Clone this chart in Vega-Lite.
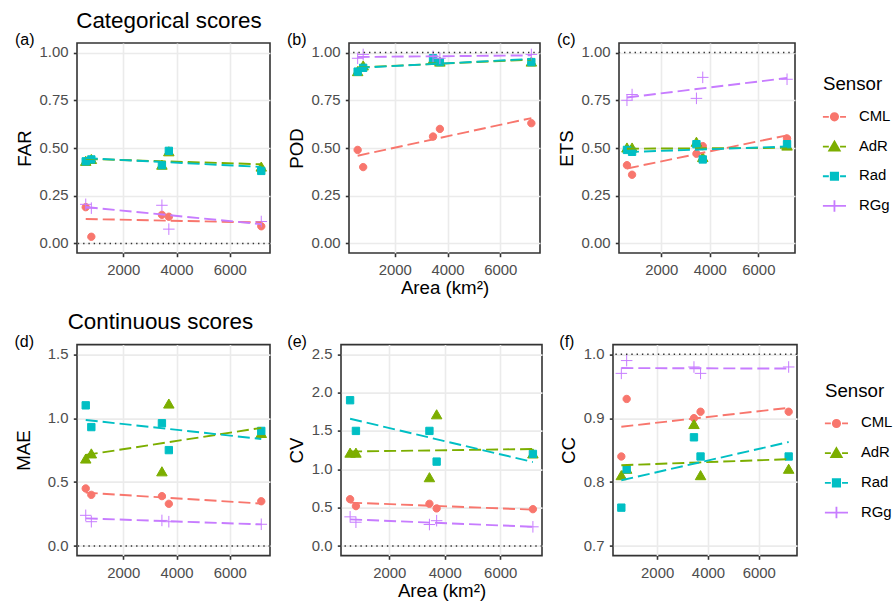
{
"$schema": "https://vega.github.io/schema/vega-lite/v6.json",
"background": "white",
"padding": {"left": 13, "top": 9, "right": 0, "bottom": 0},
"datasets": {"scores": [
{"m":"FAR","Area":590,"Sensor":"CML","value":0.19},{"m":"FAR","Area":800,"Sensor":"CML","value":0.035},{"m":"FAR","Area":3450,"Sensor":"CML","value":0.15},{"m":"FAR","Area":3710,"Sensor":"CML","value":0.14},{"m":"FAR","Area":7180,"Sensor":"CML","value":0.09},
{"m":"FAR","Area":590,"Sensor":"AdR","value":0.43},{"m":"FAR","Area":800,"Sensor":"AdR","value":0.44},{"m":"FAR","Area":3450,"Sensor":"AdR","value":0.41},{"m":"FAR","Area":3710,"Sensor":"AdR","value":0.48},{"m":"FAR","Area":7180,"Sensor":"AdR","value":0.40},
{"m":"FAR","Area":590,"Sensor":"Rad","value":0.43},{"m":"FAR","Area":800,"Sensor":"Rad","value":0.44},{"m":"FAR","Area":3450,"Sensor":"Rad","value":0.41},{"m":"FAR","Area":3710,"Sensor":"Rad","value":0.485},{"m":"FAR","Area":7180,"Sensor":"Rad","value":0.38},
{"m":"FAR","Area":590,"Sensor":"RGg","value":0.205},{"m":"FAR","Area":800,"Sensor":"RGg","value":0.185},{"m":"FAR","Area":3450,"Sensor":"RGg","value":0.20},{"m":"FAR","Area":3710,"Sensor":"RGg","value":0.075},{"m":"FAR","Area":7180,"Sensor":"RGg","value":0.115},
{"m":"POD","Area":590,"Sensor":"CML","value":0.49},{"m":"POD","Area":800,"Sensor":"CML","value":0.40},{"m":"POD","Area":3450,"Sensor":"CML","value":0.56},{"m":"POD","Area":3710,"Sensor":"CML","value":0.60},{"m":"POD","Area":7180,"Sensor":"CML","value":0.63},
{"m":"POD","Area":590,"Sensor":"AdR","value":0.90},{"m":"POD","Area":800,"Sensor":"AdR","value":0.93},{"m":"POD","Area":3450,"Sensor":"AdR","value":0.96},{"m":"POD","Area":3710,"Sensor":"AdR","value":0.95},{"m":"POD","Area":7180,"Sensor":"AdR","value":0.95},
{"m":"POD","Area":590,"Sensor":"Rad","value":0.90},{"m":"POD","Area":800,"Sensor":"Rad","value":0.92},{"m":"POD","Area":3450,"Sensor":"Rad","value":0.97},{"m":"POD","Area":3710,"Sensor":"Rad","value":0.95},{"m":"POD","Area":7180,"Sensor":"Rad","value":0.95},
{"m":"POD","Area":590,"Sensor":"RGg","value":0.97},{"m":"POD","Area":800,"Sensor":"RGg","value":0.99},{"m":"POD","Area":3450,"Sensor":"RGg","value":0.98},{"m":"POD","Area":3710,"Sensor":"RGg","value":0.97},{"m":"POD","Area":7180,"Sensor":"RGg","value":0.99},
{"m":"ETS","Area":590,"Sensor":"CML","value":0.41},{"m":"ETS","Area":800,"Sensor":"CML","value":0.36},{"m":"ETS","Area":3450,"Sensor":"CML","value":0.47},{"m":"ETS","Area":3710,"Sensor":"CML","value":0.51},{"m":"ETS","Area":7180,"Sensor":"CML","value":0.55},
{"m":"ETS","Area":590,"Sensor":"AdR","value":0.50},{"m":"ETS","Area":800,"Sensor":"AdR","value":0.50},{"m":"ETS","Area":3450,"Sensor":"AdR","value":0.53},{"m":"ETS","Area":3710,"Sensor":"AdR","value":0.45},{"m":"ETS","Area":7180,"Sensor":"AdR","value":0.51},
{"m":"ETS","Area":590,"Sensor":"Rad","value":0.49},{"m":"ETS","Area":800,"Sensor":"Rad","value":0.48},{"m":"ETS","Area":3450,"Sensor":"Rad","value":0.52},{"m":"ETS","Area":3710,"Sensor":"Rad","value":0.44},{"m":"ETS","Area":7180,"Sensor":"Rad","value":0.52},
{"m":"ETS","Area":590,"Sensor":"RGg","value":0.75},{"m":"ETS","Area":800,"Sensor":"RGg","value":0.78},{"m":"ETS","Area":3450,"Sensor":"RGg","value":0.76},{"m":"ETS","Area":3710,"Sensor":"RGg","value":0.87},{"m":"ETS","Area":7180,"Sensor":"RGg","value":0.86},
{"m":"MAE","Area":590,"Sensor":"CML","value":0.45},{"m":"MAE","Area":800,"Sensor":"CML","value":0.40},{"m":"MAE","Area":3450,"Sensor":"CML","value":0.39},{"m":"MAE","Area":3710,"Sensor":"CML","value":0.33},{"m":"MAE","Area":7180,"Sensor":"CML","value":0.35},
{"m":"MAE","Area":590,"Sensor":"AdR","value":0.68},{"m":"MAE","Area":800,"Sensor":"AdR","value":0.72},{"m":"MAE","Area":3450,"Sensor":"AdR","value":0.58},{"m":"MAE","Area":3710,"Sensor":"AdR","value":1.11},{"m":"MAE","Area":7180,"Sensor":"AdR","value":0.88},
{"m":"MAE","Area":590,"Sensor":"Rad","value":1.10},{"m":"MAE","Area":800,"Sensor":"Rad","value":0.93},{"m":"MAE","Area":3450,"Sensor":"Rad","value":0.96},{"m":"MAE","Area":3710,"Sensor":"Rad","value":0.75},{"m":"MAE","Area":7180,"Sensor":"Rad","value":0.90},
{"m":"MAE","Area":590,"Sensor":"RGg","value":0.24},{"m":"MAE","Area":800,"Sensor":"RGg","value":0.19},{"m":"MAE","Area":3450,"Sensor":"RGg","value":0.20},{"m":"MAE","Area":3710,"Sensor":"RGg","value":0.19},{"m":"MAE","Area":7180,"Sensor":"RGg","value":0.17},
{"m":"CV","Area":590,"Sensor":"CML","value":0.61},{"m":"CV","Area":800,"Sensor":"CML","value":0.52},{"m":"CV","Area":3450,"Sensor":"CML","value":0.55},{"m":"CV","Area":3710,"Sensor":"CML","value":0.49},{"m":"CV","Area":7180,"Sensor":"CML","value":0.48},
{"m":"CV","Area":590,"Sensor":"AdR","value":1.21},{"m":"CV","Area":800,"Sensor":"AdR","value":1.21},{"m":"CV","Area":3450,"Sensor":"AdR","value":0.89},{"m":"CV","Area":3710,"Sensor":"AdR","value":1.71},{"m":"CV","Area":7180,"Sensor":"AdR","value":1.20},
{"m":"CV","Area":590,"Sensor":"Rad","value":1.90},{"m":"CV","Area":800,"Sensor":"Rad","value":1.50},{"m":"CV","Area":3450,"Sensor":"Rad","value":1.50},{"m":"CV","Area":3710,"Sensor":"Rad","value":1.10},{"m":"CV","Area":7180,"Sensor":"Rad","value":1.20},
{"m":"CV","Area":590,"Sensor":"RGg","value":0.38},{"m":"CV","Area":800,"Sensor":"RGg","value":0.31},{"m":"CV","Area":3450,"Sensor":"RGg","value":0.28},{"m":"CV","Area":3710,"Sensor":"RGg","value":0.33},{"m":"CV","Area":7180,"Sensor":"RGg","value":0.25},
{"m":"CC","Area":590,"Sensor":"CML","value":0.84},{"m":"CC","Area":800,"Sensor":"CML","value":0.93},{"m":"CC","Area":3450,"Sensor":"CML","value":0.90},{"m":"CC","Area":3710,"Sensor":"CML","value":0.91},{"m":"CC","Area":7180,"Sensor":"CML","value":0.91},
{"m":"CC","Area":590,"Sensor":"AdR","value":0.81},{"m":"CC","Area":800,"Sensor":"AdR","value":0.82},{"m":"CC","Area":3450,"Sensor":"AdR","value":0.89},{"m":"CC","Area":3710,"Sensor":"AdR","value":0.81},{"m":"CC","Area":7180,"Sensor":"AdR","value":0.82},
{"m":"CC","Area":590,"Sensor":"Rad","value":0.76},{"m":"CC","Area":800,"Sensor":"Rad","value":0.82},{"m":"CC","Area":3450,"Sensor":"Rad","value":0.87},{"m":"CC","Area":3710,"Sensor":"Rad","value":0.84},{"m":"CC","Area":7180,"Sensor":"Rad","value":0.84},
{"m":"CC","Area":590,"Sensor":"RGg","value":0.97},{"m":"CC","Area":800,"Sensor":"RGg","value":0.99},{"m":"CC","Area":3450,"Sensor":"RGg","value":0.98},{"m":"CC","Area":3710,"Sensor":"RGg","value":0.97},{"m":"CC","Area":7180,"Sensor":"RGg","value":0.98}
]},
"spacing": 11.6,
"vconcat": [
{
"title": {"text": "Categorical scores", "anchor": "start", "frame": "bounds", "fontSize": 22.4, "dx": 62, "offset": -1},
"spacing": 14,
"hconcat": [
{
"width": 193, "height": 210,
"title": {"text": "(a)", "anchor": "start", "frame": "bounds", "fontSize": 16, "offset": -5},
"data": {"name": "scores"},
"transform": [{"filter": "datum.m === 'FAR'"}],
"resolve": {"scale": {"fill": "independent", "stroke": "independent", "shape": "independent"}, "axis": {"x": "independent"}},
"layer": [
{"mark": {"type": "point", "filled": true, "opacity": 1, "size": 49, "strokeWidth": 1},
 "encoding": {
  "x": {"field": "Area", "type": "quantitative", "scale": {"domain": [262, 7508], "nice": false, "zero": false},
   "axis": {"title": null, "orient": "bottom", "values": [2000,4000,6000], "format": "d", "labelOverlap": false, "gridWidth": 1.6}},
  "y": {"field": "value", "type": "quantitative", "scale": {"domain": [-0.05, 1.05], "nice": false, "zero": false},
   "axis": {"title": "FAR", "labelOverlap": false, "values": [0,0.125,0.25,0.375,0.5,0.625,0.75,0.875,1], "labelExpr": "(datum.value*4)%1 > 0.001 ? '' : format(datum.value, '.2f')", "gridWidth": {"condition": {"test": "(datum.value*4)%1 > 0.001", "value": 0.8}, "value": 1.6}, "tickOpacity": {"condition": {"test": "(datum.value*4)%1 > 0.001", "value": 0}, "value": 1}}},
  "fill": {"field": "Sensor", "type": "nominal", "scale": {"domain": ["CML","AdR","Rad","RGg"], "range": ["#F8766D","#7CAE00","#00BFC4","#C77CFF"]}, "legend": null},
  "stroke": {"field": "Sensor", "type": "nominal", "scale": {"domain": ["CML","AdR","Rad","RGg"], "range": ["#F8766D","#7CAE00","#00BFC4","#C77CFF"]}, "legend": null},
  "shape": {"field": "Sensor", "type": "nominal", "scale": {"domain": ["CML","AdR","Rad","RGg"], "range": ["M-1.05,0A1.05,1.05,0,1,1,1.05,0A1.05,1.05,0,1,1,-1.05,0Z","M0,-1.45L1.5,1.15L-1.5,1.15Z","M-1.05,-1.05H1.05V1.05H-1.05Z","M-1.65,0H1.65M0,-1.65V1.65"]}, "legend": null}
 }},
{"data": {"values": [{}]}, "mark": {"type": "rule", "strokeDash": [1.4, 3.9], "strokeWidth": 1.4, "color": "#333333"},
 "encoding": {"y": {"datum": 0, "type": "quantitative"}}},
{"transform": [{"regression": "value", "on": "Area", "groupby": ["Sensor"]}],
 "mark": {"type": "line", "strokeDash": [12, 5], "strokeWidth": 1.9},
 "encoding": {
  "x": {"field": "Area", "type": "quantitative", "axis": {"orient": "bottom", "title": null, "values": [1000,3000,5000,7000], "labels": false, "ticks": false, "domain": false, "gridWidth": 0.8}},
  "y": {"field": "value", "type": "quantitative"},
  "stroke": {"field": "Sensor", "type": "nominal", "scale": {"domain": ["CML","AdR","Rad","RGg"], "range": ["#F8766D","#7CAE00","#00BFC4","#C77CFF"]}, "legend": null}
 }}
]
},
{
"width": 191, "height": 210,
"title": {"text": "(b)", "anchor": "start", "frame": "bounds", "fontSize": 16, "offset": -5},
"data": {"name": "scores"},
"transform": [{"filter": "datum.m === 'POD'"}],
"resolve": {"scale": {"fill": "independent", "stroke": "independent", "shape": "independent"}, "axis": {"x": "independent"}},
"layer": [
{"mark": {"type": "point", "filled": true, "opacity": 1, "size": 49, "strokeWidth": 1},
 "encoding": {
  "x": {"field": "Area", "type": "quantitative", "scale": {"domain": [262, 7508], "nice": false, "zero": false},
   "axis": {"title": "Area (km²)", "orient": "bottom", "values": [2000,4000,6000], "format": "d", "labelOverlap": false, "gridWidth": 1.6}},
  "y": {"field": "value", "type": "quantitative", "scale": {"domain": [-0.05, 1.05], "nice": false, "zero": false},
   "axis": {"title": "POD", "labelOverlap": false, "values": [0,0.125,0.25,0.375,0.5,0.625,0.75,0.875,1], "labelExpr": "(datum.value*4)%1 > 0.001 ? '' : format(datum.value, '.2f')", "gridWidth": {"condition": {"test": "(datum.value*4)%1 > 0.001", "value": 0.8}, "value": 1.6}, "tickOpacity": {"condition": {"test": "(datum.value*4)%1 > 0.001", "value": 0}, "value": 1}}},
  "fill": {"field": "Sensor", "type": "nominal", "scale": {"domain": ["CML","AdR","Rad","RGg"], "range": ["#F8766D","#7CAE00","#00BFC4","#C77CFF"]}, "legend": null},
  "stroke": {"field": "Sensor", "type": "nominal", "scale": {"domain": ["CML","AdR","Rad","RGg"], "range": ["#F8766D","#7CAE00","#00BFC4","#C77CFF"]}, "legend": null},
  "shape": {"field": "Sensor", "type": "nominal", "scale": {"domain": ["CML","AdR","Rad","RGg"], "range": ["M-1.05,0A1.05,1.05,0,1,1,1.05,0A1.05,1.05,0,1,1,-1.05,0Z","M0,-1.45L1.5,1.15L-1.5,1.15Z","M-1.05,-1.05H1.05V1.05H-1.05Z","M-1.65,0H1.65M0,-1.65V1.65"]}, "legend": null}
 }},
{"data": {"values": [{}]}, "mark": {"type": "rule", "strokeDash": [1.4, 3.9], "strokeWidth": 1.4, "color": "#333333"},
 "encoding": {"y": {"datum": 1, "type": "quantitative"}}},
{"transform": [{"regression": "value", "on": "Area", "groupby": ["Sensor"]}],
 "mark": {"type": "line", "strokeDash": [12, 5], "strokeWidth": 1.9},
 "encoding": {
  "x": {"field": "Area", "type": "quantitative", "axis": {"orient": "bottom", "title": null, "values": [1000,3000,5000,7000], "labels": false, "ticks": false, "domain": false, "gridWidth": 0.8}},
  "y": {"field": "value", "type": "quantitative"},
  "stroke": {"field": "Sensor", "type": "nominal", "scale": {"domain": ["CML","AdR","Rad","RGg"], "range": ["#F8766D","#7CAE00","#00BFC4","#C77CFF"]}, "legend": null}
 }}
]
},
{
"width": 176, "height": 210,
"title": {"text": "(c)", "anchor": "start", "frame": "bounds", "fontSize": 16, "offset": -5},
"data": {"name": "scores"},
"transform": [{"filter": "datum.m === 'ETS'"}],
"resolve": {"scale": {"fill": "independent", "stroke": "independent", "shape": "independent"}, "axis": {"x": "independent"}},
"layer": [
{"mark": {"type": "point", "filled": true, "opacity": 1, "size": 49, "strokeWidth": 1},
 "encoding": {
  "x": {"field": "Area", "type": "quantitative", "scale": {"domain": [262, 7508], "nice": false, "zero": false},
   "axis": {"title": null, "orient": "bottom", "values": [2000,4000,6000], "format": "d", "labelOverlap": false, "gridWidth": 1.6}},
  "y": {"field": "value", "type": "quantitative", "scale": {"domain": [-0.05, 1.05], "nice": false, "zero": false},
   "axis": {"title": "ETS", "labelOverlap": false, "values": [0,0.125,0.25,0.375,0.5,0.625,0.75,0.875,1], "labelExpr": "(datum.value*4)%1 > 0.001 ? '' : format(datum.value, '.2f')", "gridWidth": {"condition": {"test": "(datum.value*4)%1 > 0.001", "value": 0.8}, "value": 1.6}, "tickOpacity": {"condition": {"test": "(datum.value*4)%1 > 0.001", "value": 0}, "value": 1}}},
  "fill": {"field": "Sensor", "type": "nominal", "scale": {"domain": ["CML","AdR","Rad","RGg"], "range": ["#F8766D","#7CAE00","#00BFC4","#C77CFF"]}, "legend": null},
  "stroke": {"field": "Sensor", "type": "nominal", "scale": {"domain": ["CML","AdR","Rad","RGg"], "range": ["#F8766D","#7CAE00","#00BFC4","#C77CFF"]}, "legend": null},
  "shape": {"field": "Sensor", "type": "nominal", "scale": {"domain": ["CML","AdR","Rad","RGg"], "range": ["M-1.05,0A1.05,1.05,0,1,1,1.05,0A1.05,1.05,0,1,1,-1.05,0Z","M0,-1.45L1.5,1.15L-1.5,1.15Z","M-1.05,-1.05H1.05V1.05H-1.05Z","M-1.65,0H1.65M0,-1.65V1.65"]}, "legend": null}
 }},
{"data": {"values": [{}]}, "mark": {"type": "rule", "strokeDash": [1.4, 3.9], "strokeWidth": 1.4, "color": "#333333"},
 "encoding": {"y": {"datum": 1, "type": "quantitative"}}},
{"transform": [{"regression": "value", "on": "Area", "groupby": ["Sensor"]}],
 "mark": {"type": "line", "strokeDash": [12, 5], "strokeWidth": 1.9},
 "encoding": {
  "x": {"field": "Area", "type": "quantitative", "axis": {"orient": "bottom", "title": null, "values": [1000,3000,5000,7000], "labels": false, "ticks": false, "domain": false, "gridWidth": 0.8}},
  "y": {"field": "value", "type": "quantitative"},
  "stroke": {"field": "Sensor", "type": "nominal", "scale": {"domain": ["CML","AdR","Rad","RGg"], "range": ["#F8766D","#7CAE00","#00BFC4","#C77CFF"]}, "legend": null}
 }},
{"mark": {"type": "point", "filled": true, "opacity": 0, "size": 49},
 "encoding": {
  "fill": {"field": "Sensor", "type": "nominal", "scale": {"domain": ["CML","AdR","Rad","RGg"], "range": ["#F8766D","#7CAE00","#00BFC4","#C77CFF"]},
   "legend": {"title": "Sensor", "orient": "none", "legendX": 204, "legendY": 32, "symbolSize": 49, "symbolStrokeWidth": 1.8, "symbolOpacity": 1, "symbolOffset": 4, "labelOffset": 17, "titlePadding": 15.7, "rowPadding": 12.7}},
  "stroke": {"field": "Sensor", "type": "nominal", "scale": {"domain": ["CML","AdR","Rad","RGg"], "range": ["#F8766D","#7CAE00","#00BFC4","#C77CFF"]},
   "legend": {"title": "Sensor", "orient": "none", "legendX": 204, "legendY": 32, "symbolSize": 49, "symbolStrokeWidth": 1.8, "symbolOpacity": 1, "symbolOffset": 4, "labelOffset": 17, "titlePadding": 15.7, "rowPadding": 12.7}},
  "shape": {"field": "Sensor", "type": "nominal", "scale": {"domain": ["CML","AdR","Rad","RGg"], "range": ["M-3.3,0H-1.6M1.6,0H3.3M-1.05,0A1.05,1.05,0,1,1,1.05,0A1.05,1.05,0,1,1,-1.05,0Z","M-3.3,0H-1.6M1.6,0H3.3M0,-1.45L1.5,1.15L-1.5,1.15Z","M-3.3,0H-1.6M1.6,0H3.3M-1.05,-1.05H1.05V1.05H-1.05Z","M-3.3,0H3.3M0,-1.65V1.65"]},
   "legend": {"title": "Sensor", "orient": "none", "legendX": 204, "legendY": 32, "symbolSize": 49, "symbolStrokeWidth": 1.8, "symbolOpacity": 1, "symbolOffset": 4, "labelOffset": 17, "titlePadding": 15.7, "rowPadding": 12.7}}
 }}
]
}
]
},
{
"title": {"text": "Continuous scores", "anchor": "start", "frame": "bounds", "fontSize": 22.4, "dx": 54, "offset": -1},
"spacing": 14,
"hconcat": [
{
"width": 193, "height": 211,
"title": {"text": "(d)", "anchor": "start", "frame": "bounds", "fontSize": 16, "offset": -5},
"data": {"name": "scores"},
"transform": [{"filter": "datum.m === 'MAE'"}],
"resolve": {"scale": {"fill": "independent", "stroke": "independent", "shape": "independent"}, "axis": {"x": "independent"}},
"layer": [
{"mark": {"type": "point", "filled": true, "opacity": 1, "size": 49, "strokeWidth": 1},
 "encoding": {
  "x": {"field": "Area", "type": "quantitative", "scale": {"domain": [262, 7508], "nice": false, "zero": false},
   "axis": {"title": null, "orient": "bottom", "values": [2000,4000,6000], "format": "d", "labelOverlap": false, "gridWidth": 1.6}},
  "y": {"field": "value", "type": "quantitative", "scale": {"domain": [-0.075, 1.575], "nice": false, "zero": false},
   "axis": {"title": "MAE", "minExtent": 38.5, "labelOverlap": false, "values": [0,0.25,0.5,0.75,1,1.25,1.5], "labelExpr": "(datum.value*2)%1 > 0.001 ? '' : format(datum.value, '.1f')", "gridWidth": {"condition": {"test": "(datum.value*2)%1 > 0.001", "value": 0.8}, "value": 1.6}, "tickOpacity": {"condition": {"test": "(datum.value*2)%1 > 0.001", "value": 0}, "value": 1}}},
  "fill": {"field": "Sensor", "type": "nominal", "scale": {"domain": ["CML","AdR","Rad","RGg"], "range": ["#F8766D","#7CAE00","#00BFC4","#C77CFF"]}, "legend": null},
  "stroke": {"field": "Sensor", "type": "nominal", "scale": {"domain": ["CML","AdR","Rad","RGg"], "range": ["#F8766D","#7CAE00","#00BFC4","#C77CFF"]}, "legend": null},
  "shape": {"field": "Sensor", "type": "nominal", "scale": {"domain": ["CML","AdR","Rad","RGg"], "range": ["M-1.05,0A1.05,1.05,0,1,1,1.05,0A1.05,1.05,0,1,1,-1.05,0Z","M0,-1.45L1.5,1.15L-1.5,1.15Z","M-1.05,-1.05H1.05V1.05H-1.05Z","M-1.65,0H1.65M0,-1.65V1.65"]}, "legend": null}
 }},
{"data": {"values": [{}]}, "mark": {"type": "rule", "strokeDash": [1.4, 3.9], "strokeWidth": 1.4, "color": "#333333"},
 "encoding": {"y": {"datum": 0, "type": "quantitative"}}},
{"transform": [{"regression": "value", "on": "Area", "groupby": ["Sensor"]}],
 "mark": {"type": "line", "strokeDash": [12, 5], "strokeWidth": 1.9},
 "encoding": {
  "x": {"field": "Area", "type": "quantitative", "axis": {"orient": "bottom", "title": null, "values": [1000,3000,5000,7000], "labels": false, "ticks": false, "domain": false, "gridWidth": 0.8}},
  "y": {"field": "value", "type": "quantitative"},
  "stroke": {"field": "Sensor", "type": "nominal", "scale": {"domain": ["CML","AdR","Rad","RGg"], "range": ["#F8766D","#7CAE00","#00BFC4","#C77CFF"]}, "legend": null}
 }}
]
},
{
"width": 201, "height": 211,
"title": {"text": "(e)", "anchor": "start", "frame": "bounds", "fontSize": 16, "offset": -5},
"data": {"name": "scores"},
"transform": [{"filter": "datum.m === 'CV'"}],
"resolve": {"scale": {"fill": "independent", "stroke": "independent", "shape": "independent"}, "axis": {"x": "independent"}},
"layer": [
{"mark": {"type": "point", "filled": true, "opacity": 1, "size": 49, "strokeWidth": 1},
 "encoding": {
  "x": {"field": "Area", "type": "quantitative", "scale": {"domain": [262, 7508], "nice": false, "zero": false},
   "axis": {"title": "Area (km²)", "orient": "bottom", "values": [2000,4000,6000], "format": "d", "labelOverlap": false, "gridWidth": 1.6}},
  "y": {"field": "value", "type": "quantitative", "scale": {"domain": [-0.125, 2.625], "nice": false, "zero": false},
   "axis": {"title": "CV", "labelOverlap": false, "values": [0,0.25,0.5,0.75,1,1.25,1.5,1.75,2,2.25,2.5], "labelExpr": "(datum.value*2)%1 > 0.001 ? '' : format(datum.value, '.1f')", "gridWidth": {"condition": {"test": "(datum.value*2)%1 > 0.001", "value": 0.8}, "value": 1.6}, "tickOpacity": {"condition": {"test": "(datum.value*2)%1 > 0.001", "value": 0}, "value": 1}}},
  "fill": {"field": "Sensor", "type": "nominal", "scale": {"domain": ["CML","AdR","Rad","RGg"], "range": ["#F8766D","#7CAE00","#00BFC4","#C77CFF"]}, "legend": null},
  "stroke": {"field": "Sensor", "type": "nominal", "scale": {"domain": ["CML","AdR","Rad","RGg"], "range": ["#F8766D","#7CAE00","#00BFC4","#C77CFF"]}, "legend": null},
  "shape": {"field": "Sensor", "type": "nominal", "scale": {"domain": ["CML","AdR","Rad","RGg"], "range": ["M-1.05,0A1.05,1.05,0,1,1,1.05,0A1.05,1.05,0,1,1,-1.05,0Z","M0,-1.45L1.5,1.15L-1.5,1.15Z","M-1.05,-1.05H1.05V1.05H-1.05Z","M-1.65,0H1.65M0,-1.65V1.65"]}, "legend": null}
 }},
{"data": {"values": [{}]}, "mark": {"type": "rule", "strokeDash": [1.4, 3.9], "strokeWidth": 1.4, "color": "#333333"},
 "encoding": {"y": {"datum": 0, "type": "quantitative"}}},
{"transform": [{"regression": "value", "on": "Area", "groupby": ["Sensor"]}],
 "mark": {"type": "line", "strokeDash": [12, 5], "strokeWidth": 1.9},
 "encoding": {
  "x": {"field": "Area", "type": "quantitative", "axis": {"orient": "bottom", "title": null, "values": [1000,3000,5000,7000], "labels": false, "ticks": false, "domain": false, "gridWidth": 0.8}},
  "y": {"field": "value", "type": "quantitative"},
  "stroke": {"field": "Sensor", "type": "nominal", "scale": {"domain": ["CML","AdR","Rad","RGg"], "range": ["#F8766D","#7CAE00","#00BFC4","#C77CFF"]}, "legend": null}
 }}
]
},
{
"width": 184, "height": 211,
"title": {"text": "(f)", "anchor": "start", "frame": "bounds", "fontSize": 16, "offset": -5},
"data": {"name": "scores"},
"transform": [{"filter": "datum.m === 'CC'"}],
"resolve": {"scale": {"fill": "independent", "stroke": "independent", "shape": "independent"}, "axis": {"x": "independent"}},
"layer": [
{"mark": {"type": "point", "filled": true, "opacity": 1, "size": 49, "strokeWidth": 1},
 "encoding": {
  "x": {"field": "Area", "type": "quantitative", "scale": {"domain": [262, 7508], "nice": false, "zero": false},
   "axis": {"title": null, "orient": "bottom", "values": [2000,4000,6000], "format": "d", "labelOverlap": false, "gridWidth": 1.6}},
  "y": {"field": "value", "type": "quantitative", "scale": {"domain": [0.685, 1.015], "nice": false, "zero": false},
   "axis": {"title": "CC", "labelOverlap": false, "values": [0.7,0.75,0.8,0.85,0.9,0.95,1], "labelExpr": "abs(datum.value*10 - round(datum.value*10)) > 0.01 ? '' : format(datum.value, '.1f')", "gridWidth": {"condition": {"test": "abs(datum.value*10 - round(datum.value*10)) > 0.01", "value": 0.8}, "value": 1.6}, "tickOpacity": {"condition": {"test": "abs(datum.value*10 - round(datum.value*10)) > 0.01", "value": 0}, "value": 1}}},
  "fill": {"field": "Sensor", "type": "nominal", "scale": {"domain": ["CML","AdR","Rad","RGg"], "range": ["#F8766D","#7CAE00","#00BFC4","#C77CFF"]}, "legend": null},
  "stroke": {"field": "Sensor", "type": "nominal", "scale": {"domain": ["CML","AdR","Rad","RGg"], "range": ["#F8766D","#7CAE00","#00BFC4","#C77CFF"]}, "legend": null},
  "shape": {"field": "Sensor", "type": "nominal", "scale": {"domain": ["CML","AdR","Rad","RGg"], "range": ["M-1.05,0A1.05,1.05,0,1,1,1.05,0A1.05,1.05,0,1,1,-1.05,0Z","M0,-1.45L1.5,1.15L-1.5,1.15Z","M-1.05,-1.05H1.05V1.05H-1.05Z","M-1.65,0H1.65M0,-1.65V1.65"]}, "legend": null}
 }},
{"data": {"values": [{}]}, "mark": {"type": "rule", "strokeDash": [1.4, 3.9], "strokeWidth": 1.4, "color": "#333333"},
 "encoding": {"y": {"datum": 1, "type": "quantitative"}}},
{"transform": [{"regression": "value", "on": "Area", "groupby": ["Sensor"]}],
 "mark": {"type": "line", "strokeDash": [12, 5], "strokeWidth": 1.9},
 "encoding": {
  "x": {"field": "Area", "type": "quantitative", "axis": {"orient": "bottom", "title": null, "values": [1000,3000,5000,7000], "labels": false, "ticks": false, "domain": false, "gridWidth": 0.8}},
  "y": {"field": "value", "type": "quantitative"},
  "stroke": {"field": "Sensor", "type": "nominal", "scale": {"domain": ["CML","AdR","Rad","RGg"], "range": ["#F8766D","#7CAE00","#00BFC4","#C77CFF"]}, "legend": null}
 }},
{"mark": {"type": "point", "filled": true, "opacity": 0, "size": 49},
 "encoding": {
  "fill": {"field": "Sensor", "type": "nominal", "scale": {"domain": ["CML","AdR","Rad","RGg"], "range": ["#F8766D","#7CAE00","#00BFC4","#C77CFF"]},
   "legend": {"title": "Sensor", "orient": "none", "legendX": 212, "legendY": 37, "symbolSize": 49, "symbolStrokeWidth": 1.8, "symbolOpacity": 1, "symbolOffset": 4, "labelOffset": 17, "titlePadding": 15.7, "rowPadding": 12.7}},
  "stroke": {"field": "Sensor", "type": "nominal", "scale": {"domain": ["CML","AdR","Rad","RGg"], "range": ["#F8766D","#7CAE00","#00BFC4","#C77CFF"]},
   "legend": {"title": "Sensor", "orient": "none", "legendX": 212, "legendY": 37, "symbolSize": 49, "symbolStrokeWidth": 1.8, "symbolOpacity": 1, "symbolOffset": 4, "labelOffset": 17, "titlePadding": 15.7, "rowPadding": 12.7}},
  "shape": {"field": "Sensor", "type": "nominal", "scale": {"domain": ["CML","AdR","Rad","RGg"], "range": ["M-3.3,0H-1.6M1.6,0H3.3M-1.05,0A1.05,1.05,0,1,1,1.05,0A1.05,1.05,0,1,1,-1.05,0Z","M-3.3,0H-1.6M1.6,0H3.3M0,-1.45L1.5,1.15L-1.5,1.15Z","M-3.3,0H-1.6M1.6,0H3.3M-1.05,-1.05H1.05V1.05H-1.05Z","M-3.3,0H3.3M0,-1.65V1.65"]},
   "legend": {"title": "Sensor", "orient": "none", "legendX": 212, "legendY": 37, "symbolSize": 49, "symbolStrokeWidth": 1.8, "symbolOpacity": 1, "symbolOffset": 4, "labelOffset": 17, "titlePadding": 15.7, "rowPadding": 12.7}}
 }}
]
}
]
}
],
"config": {
 "font": "Liberation Sans",
 "view": {"stroke": "#333333", "strokeWidth": 1.6},
 "axis": {"domain": false, "tickColor": "#333333", "tickSize": 3.7, "tickWidth": 1.6, "labelFontSize": 14.9, "labelColor": "#4D4D4D", "titleFontSize": 18.7, "titleFontWeight": "normal", "titleColor": "black", "gridColor": "#EBEBEB", "labelOverlap": false, "labelFlush": false},
 "axisX": {"labelPadding": 6.2, "titlePadding": 1},
 "axisY": {"labelPadding": 5.3, "titlePadding": 5},
 "title": {"color": "black", "fontWeight": "normal"},
 "legend": {"titleFontSize": 18.7, "titleFontWeight": "normal", "titleColor": "black", "labelFontSize": 14.9, "labelColor": "black"}
}
}
